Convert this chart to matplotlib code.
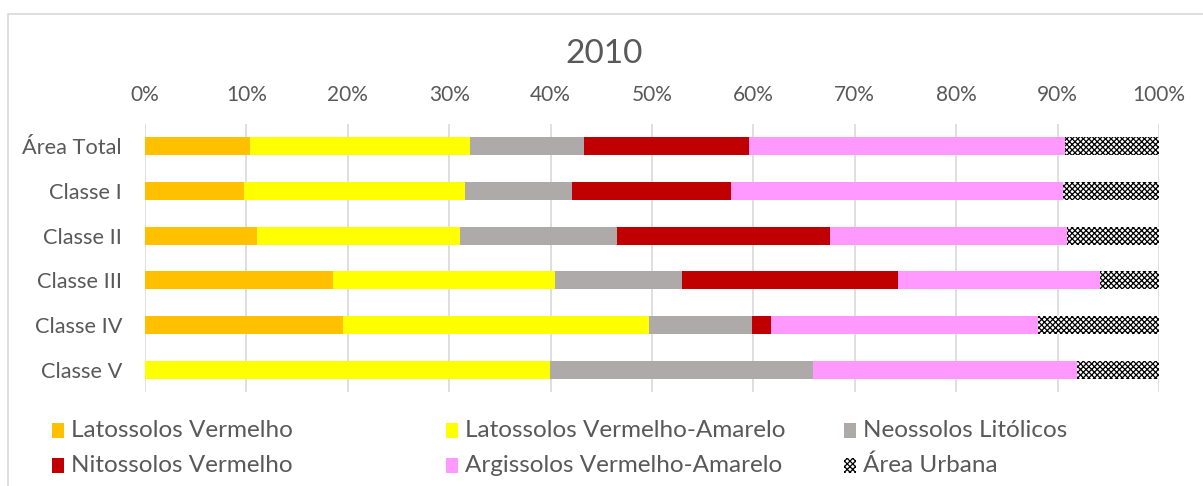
import numpy as np
import matplotlib
matplotlib.use("Agg")
import matplotlib.pyplot as plt
from matplotlib.patches import Rectangle
from matplotlib.ticker import PercentFormatter

plt.rcParams['font.family'] = ['Lato', 'DejaVu Sans']
plt.rcParams['hatch.linewidth'] = 0.9

# Share of each soil class (%) per area class, 2010
categories = ['Área Total', 'Classe I', 'Classe II', 'Classe III', 'Classe IV', 'Classe V']
series_names = ['Latossolos Vermelho', 'Latossolos Vermelho-Amarelo', 'Neossolos Litólicos',
                'Nitossolos Vermelho', 'Argissolos Vermelho-Amarelo', 'Área Urbana']
lat_vermelho = [10.4, 9.8, 11.0, 18.5, 19.5, 0.0]
lat_verm_amarelo = [21.7, 21.8, 20.1, 21.9, 30.2, 39.9]
neossolos = [11.2, 10.5, 15.45, 12.6, 10.2, 26.0]
nitossolos = [16.3, 15.7, 21.05, 21.3, 1.85, 0.0]
argissolos = [31.1, 32.7, 23.3, 19.9, 26.3, 26.0]
area_urbana = [9.3, 9.5, 9.1, 5.8, 11.95, 8.1]

series = [lat_vermelho, lat_verm_amarelo, neossolos, nitossolos, argissolos, area_urbana]
colors = ['#FFC000', '#FFFF00', '#AEAAAA', '#C00000', '#FF99FF', 'white']
hatches = [None, None, None, None, None, 'xxxxxx']

text_color = '#595959'

fig = plt.figure(figsize=(12.03, 4.86), dpi=100)
ax = fig.add_axes([145 / 1203, 1 - 392 / 486, (1159 - 145) / 1203, (392 - 124) / 486])

# chart frame
frame = Rectangle((8 / 1203, -0.1), 1.2, 1 - 14 / 486 + 0.1, transform=fig.transFigure,
                  fill=False, edgecolor='#D9D9D9', linewidth=1.2, zorder=-1)
fig.patches.append(frame)

y = np.arange(len(categories))
left = np.zeros(len(categories))
for name, vals, c, h in zip(series_names, series, colors, hatches):
    vals = np.array(vals)
    if h:
        ax.barh(y, vals, left=left, height=0.4, color=c, edgecolor='black',
                linewidth=0, hatch=h, label=name, zorder=3)
    else:
        ax.barh(y, vals, left=left, height=0.4, color=c, linewidth=0, label=name, zorder=3)
    left += vals

ax.set_xlim(0, 100)
ax.set_ylim(len(categories) - 0.5, -0.5)
ax.set_xticks(np.arange(0, 101, 10))
ax.xaxis.set_major_formatter(PercentFormatter(decimals=0))
ax.xaxis.tick_top()
ax.set_yticks(y)
ax.set_yticklabels(categories)
ax.tick_params(axis='x', length=0, labelsize=15, colors=text_color, pad=14)
ax.tick_params(axis='y', length=0, labelsize=15.7, colors=text_color, pad=16.5)
ax.grid(axis='x', color='#D9D9D9', linewidth=1.2, zorder=0)
for s in ax.spines.values():
    s.set_visible(False)

fig.text(604 / 1203, 1 - 54 / 486, '2010', ha='center', va='center', fontsize=24, color=text_color)

# legend laid out in three columns, two rows
col_x = [52, 446, 844]
row_y = [430, 465]
for i, name in enumerate(series_names):
    cx = col_x[i % 3]
    ry = row_y[i // 3]
    sq = Rectangle((cx / 1203, 1 - (ry + 8) / 486), 12 / 1203, 15 / 486,
                   transform=fig.transFigure, facecolor=colors[i],
                   edgecolor='black' if hatches[i] else 'none', linewidth=0,
                   hatch=hatches[i])
    fig.patches.append(sq)
    fig.text((cx + 19) / 1203, 1 - ry / 486, name, ha='left', va='center',
             fontsize=17.5, color=text_color)

fig.savefig('out.png', dpi=100)
